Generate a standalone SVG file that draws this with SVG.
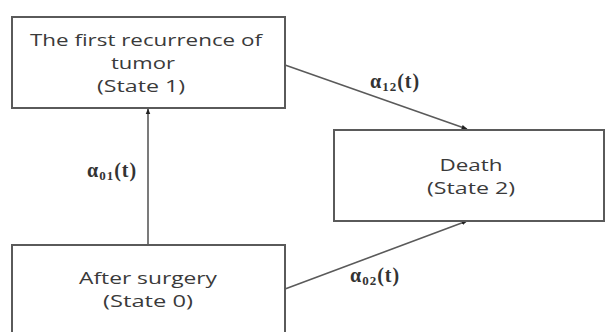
<svg xmlns="http://www.w3.org/2000/svg" width="606" height="332" viewBox="0 0 606 332">
<style>
.box{fill:#fff;stroke:#5a5a5a;stroke-width:2}
.lbl{font-family:"Open Sans","Noto Sans",sans-serif;font-size:17px;fill:#3a3a3a;text-anchor:middle}
.edge{stroke:#5a5a5a;stroke-width:1.6;fill:none}
.rate{font-family:"Liberation Serif","DejaVu Serif",serif;font-weight:bold;font-size:20px;fill:#333;letter-spacing:1px}
.sub{font-size:13px}
</style>
<defs>
<marker id="ah" viewBox="0 0 10 10" refX="9" refY="5" markerWidth="6" markerHeight="6" orient="auto" markerUnits="userSpaceOnUse">
<path d="M0,1 L10,5 L0,9 z" fill="#222"/>
</marker>
</defs>
<g id="connectors">
<line class="edge" x1="148" y1="245" x2="148" y2="109" marker-end="url(#ah)"/>
<line class="edge" x1="285" y1="65" x2="467" y2="129" marker-end="url(#ah)"/>
<line class="edge" x1="285" y1="289" x2="467" y2="221" marker-end="url(#ah)"/>
<text class="rate" x="87" y="177">α<tspan class="sub" dy="3">01</tspan><tspan dy="-3">(t)</tspan></text>
<text class="rate" x="370" y="88">α<tspan class="sub" dy="3">12</tspan><tspan dy="-3">(t)</tspan></text>
<text class="rate" x="350" y="282">α<tspan class="sub" dy="3">02</tspan><tspan dy="-3">(t)</tspan></text>
</g>
<g id="state1">
<rect class="box" x="12" y="17" width="273" height="91"/>
<text class="lbl" x="146" y="46" textLength="232" lengthAdjust="spacingAndGlyphs">The first recurrence of</text>
<text class="lbl" x="143" y="69" textLength="64" lengthAdjust="spacingAndGlyphs">tumor</text>
<text class="lbl" x="141" y="92" textLength="88" lengthAdjust="spacingAndGlyphs">(State 1)</text>
</g>
<g id="state2">
<rect class="box" x="334" y="130" width="270" height="91"/>
<text class="lbl" x="471" y="171" textLength="63" lengthAdjust="spacingAndGlyphs">Death</text>
<text class="lbl" x="471" y="194" textLength="88" lengthAdjust="spacingAndGlyphs">(State 2)</text>
</g>
<g id="state0">
<rect class="box" x="12" y="245" width="273" height="100"/>
<text class="lbl" x="148" y="284" textLength="138" lengthAdjust="spacingAndGlyphs">After surgery</text>
<text class="lbl" x="148" y="307" textLength="90" lengthAdjust="spacingAndGlyphs">(State 0)</text>
</g>
</svg>
